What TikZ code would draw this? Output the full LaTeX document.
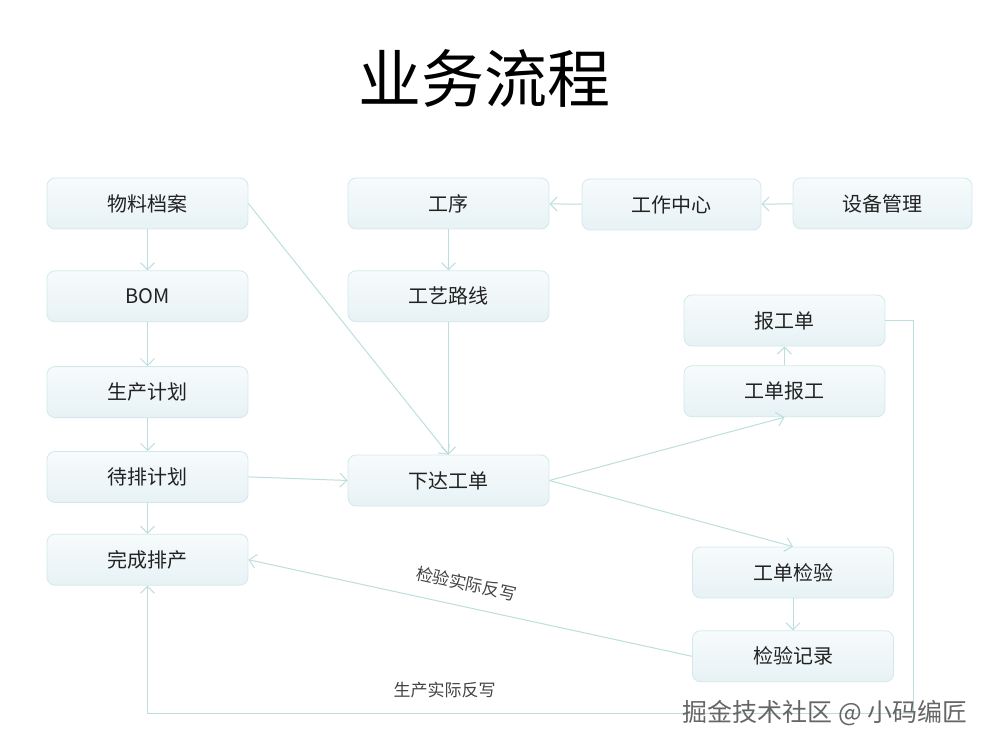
\documentclass[tikz,border=0pt]{standalone}
\usepackage{fontspec}
\setmainfont{Noto Sans CJK SC}
\usepackage{xcolor}
\usetikzlibrary{arrows.meta,positioning}

\definecolor{boxline}{RGB}{212,232,235}
\definecolor{boxtop}{RGB}{247,251,252}
\definecolor{boxbot}{RGB}{231,242,245}
\definecolor{flow}{RGB}{188,222,222}
\definecolor{txt}{RGB}{34,34,34}

\begin{document}
\begin{tikzpicture}[
  x=0.5pt, y=-0.5pt,
  box/.style={draw=boxline, rounded corners=4pt, minimum width=100.5pt, minimum height=25.5pt,
    top color=boxtop, bottom color=boxbot, text=txt, font=\fontsize{10}{12}\selectfont},
  narrow/.style={box, minimum width=89.5pt},
  note/.style={text=txt!85, font=\fontsize{8.5}{10}\selectfont},
  arrow/.style={-{Straight Barb[length=3.5pt, width=7pt]}, draw=flow, line width=0.5pt}
]
\useasboundingbox (0,0) rectangle (989,748);

\node[text=black, font=\fontsize{31.5}{36}\selectfont] (title) at (484,78) {业务流程};

% left column
\node[box] (mat) at (147.5,203.5) {物料档案};
\node[box, below=20.5pt of mat] (bom) {BOM};
\node[box, below=22pt of bom] (plan) {生产计划};
\node[box, below=16.5pt of plan] (wait) {待排计划};
\node[box, below=15.5pt of wait] (done) {完成排产};

% process column
\node[box] (proc) at (448.5,203.5) {工序};
\node[box, below=20.5pt of proc] (route) {工艺路线};
\node[box] (order) at (448.5,480.5) {下达工单};

\node[narrow] (center) at (671.5,204.5) {工作中心};
\node[narrow] (equip) at (882.5,203.5) {设备管理};

% right side
\node[box] (sheet) at (784.5,320.5) {报工单};
\node[box, below=9.5pt of sheet] (report) {工单报工};
\node[box] (check) at (793,572.5) {工单检验};
\node[box, below=16pt of check] (record) {检验记录};

\coordinate (loop) at (913,713);

\draw[arrow] (mat) -- (bom);
\draw[arrow] (bom) -- (plan);
\draw[arrow] (plan) -- (wait);
\draw[arrow] (wait) -- (done);
\draw[arrow] (mat.east) -- (order.north);
\draw[arrow] (wait.east) -- (order.west);

\draw[arrow] (equip) -- (center);
\draw[arrow] (center) -- (proc);
\draw[arrow] (proc) -- (route);
\draw[arrow] (route) -- (order.north);

\draw[arrow] (order.east) -- (report.south);
\draw[arrow] (order.east) -- (check.north);
\draw[arrow] (report) -- (sheet);
\draw[arrow] (check) -- (record);

\draw[arrow] (record.west) -- (done.east)
  node[note, pos=0.52, sloped, above=4pt] {检验实际反写};
\draw[arrow] (sheet.east) -| (loop) -| (done.south)
  node[note, pos=0.306, above=4pt] {生产实际反写};

\node[text=black!60, font=\fontsize{12.5}{15}\selectfont] (mark) at (825,713) {掘金技术社区 @ 小码编匠};
\end{tikzpicture}
\end{document}
